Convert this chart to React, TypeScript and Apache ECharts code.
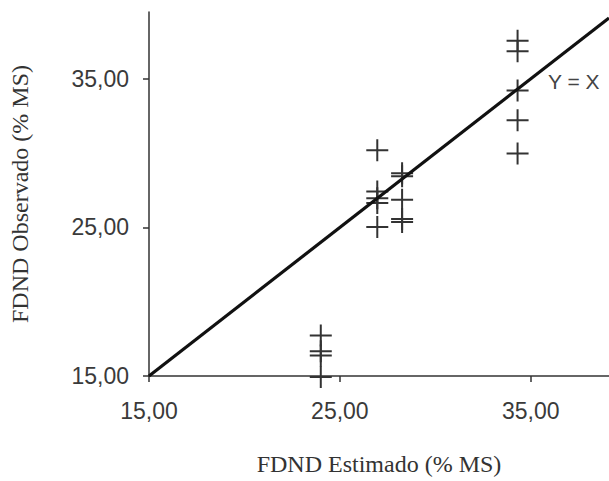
import React, { useEffect, useRef } from "react";
import * as echarts from "echarts";

const estimated = [24.0, 24.0, 24.0, 24.0, 26.96, 26.96, 26.96, 26.96, 26.96, 28.26, 28.26, 28.26, 28.26, 28.26, 34.31, 34.31, 34.31, 34.31, 34.31];
const observed = [17.72, 16.67, 16.38, 14.93, 30.2, 27.42, 26.97, 26.64, 25.03, 28.65, 28.44, 26.86, 25.57, 25.37, 37.56, 36.85, 34.22, 32.21, 29.98];
const identityLine = [15, 39.1];
const tickValues = [15, 25, 35];
const tickLabels = ["15,00", "25,00", "35,00"];
const xName = "FDND Estimado (% MS)";
const yName = "FDND Observado (% MS)";
const lineLabel = "Y = X";

const plusPath = "path://M10,0h2v22h-2z M0,10h22v2h-22z";

export default function App() {
  const ref = useRef<HTMLDivElement>(null);
  useEffect(() => {
    if (!ref.current) return;
    const chart = echarts.init(ref.current, null, { renderer: "svg" });
    const fmt = (v: number) => {
      const i = tickValues.indexOf(Math.round(v * 100) / 100);
      return i >= 0 ? tickLabels[i] : "";
    };
    const axisCommon = {
      type: "value",
      min: 15,
      interval: 10,
      splitLine: { show: false },
      axisLine: { show: true, lineStyle: { color: "#333", width: 1.5 } },
      axisTick: { show: true, length: 6, customValues: tickValues, lineStyle: { color: "#333", width: 1.5 } },
      nameTextStyle: { fontFamily: "Liberation Serif", fontSize: 24, color: "#333" },
    };
    chart.setOption({
      animation: false,
      backgroundColor: "#fff",
      grid: { left: 147, right: 0, top: 12, bottom: 102, containLabel: false },
      xAxis: {
        ...axisCommon,
        max: 39.1,
        name: xName,
        nameLocation: "middle",
        nameGap: 76,
        axisLabel: { customValues: tickValues, formatter: fmt, margin: 23, fontFamily: "Liberation Sans", fontSize: 23, color: "#3a3a3a" },
      },
      yAxis: {
        ...axisCommon,
        max: 39.5,
        name: yName,
        nameLocation: "middle",
        nameGap: 117,
        axisLabel: { customValues: tickValues, formatter: fmt, margin: 20, fontFamily: "Liberation Sans", fontSize: 23, color: "#3a3a3a" },
      },
      graphic: [
        {
          type: "text",
          left: 548,
          top: 71,
          style: { text: lineLabel, fontFamily: "Liberation Sans", fontSize: 21, fill: "#444" },
        },
      ],
      series: [
        {
          type: "line",
          data: identityLine.map((v) => [v, v]),
          symbol: "none",
          lineStyle: { color: "#111", width: 3.2 },
          z: 3,
        },
        {
          type: "scatter",
          clip: false,
          data: estimated.map((x, i) => [x, observed[i]]),
          symbol: plusPath,
          symbolSize: 22,
          itemStyle: { color: "#333", opacity: 1 },
          z: 2,
        },
      ],
    });
    return () => chart.dispose();
  }, []);
  return <div ref={ref} style={{ position: "absolute", left: 0, top: 0, width: 609, height: 481 }} />;
}
